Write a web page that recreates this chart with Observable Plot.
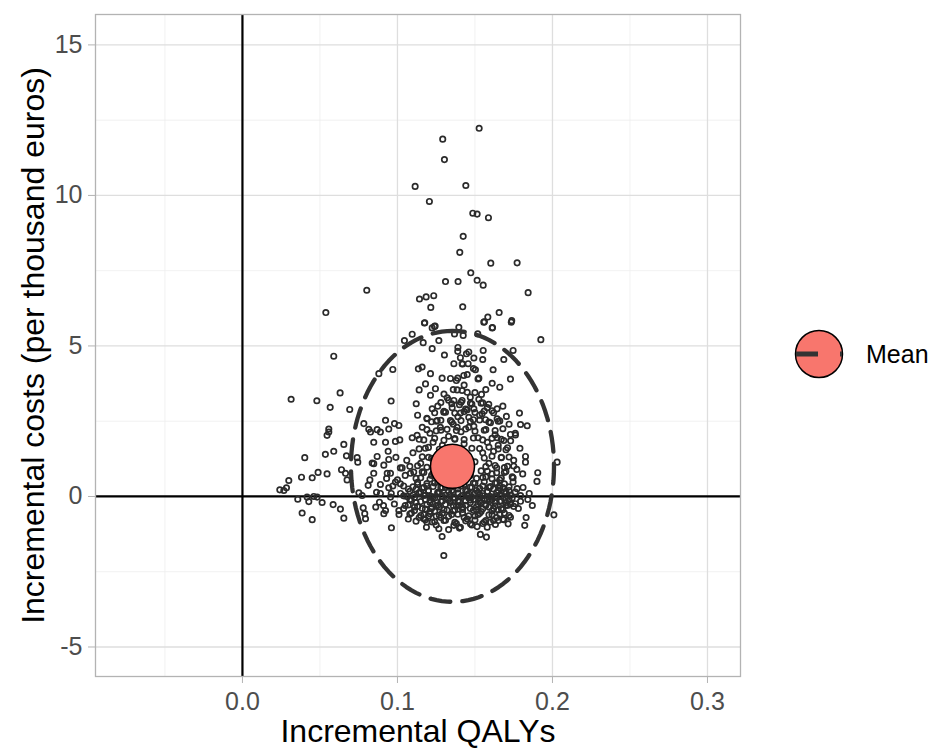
<!DOCTYPE html>
<html>
<head>
<meta charset="utf-8">
<script src="https://cdn.jsdelivr.net/npm/d3@7"></script>
<script src="https://cdn.jsdelivr.net/npm/@observablehq/plot@0.6"></script>
<style>
  body { margin: 0; background: #fff; font-family: "Liberation Sans", Arial, sans-serif; }
  #wrap { position: relative; width: 932px; height: 752px; }
  #legend { position: absolute; left: 789px; top: 324px; display: flex; align-items: center; }
  #legend span { font-size: 25px; color: #000; margin-left: 17px; }
</style>
</head>
<body>
<div id="wrap">
  <div id="chart"></div>
  <div id="legend">
    <svg width="60" height="60">
      <circle cx="30" cy="30" r="23.5" fill="#F8766D" stroke="#000" stroke-width="1.5"></circle>
      <line x1="7" y1="30" x2="29" y2="30" stroke="#333" stroke-width="5"></line>
      <line x1="51" y1="30" x2="53" y2="30" stroke="#333" stroke-width="5"></line>
    </svg>
    <span>Mean</span>
  </div>
</div>
<script>
// ---- Data ----
const xTicks = [0.0, 0.1, 0.2, 0.3];
const xMinor = [-0.05, 0.05, 0.15, 0.25];
const yTicks = [-5, 0, 5, 10, 15];
const yMinor = [-2.5, 2.5, 7.5, 12.5];
const xLabel = "Incremental QALYs";
const yLabel = "Incremental costs (per thousand euros)";
const meanQaly = 0.1355;
const meanCost = 1.0;
const ellipseRadiusQaly = 0.0655;
const ellipseRadiusCost = 4.5;
const legendLabel = "Mean";

// simulated (incremental QALY, incremental cost) pairs: outer / readable points
const samples = [
  [0.1527,12.23],[0.1292,11.87],[0.1303,11.19],[0.1114,10.3],[0.1441,10.33],[0.1206,9.80],
  [0.1486,9.41],[0.1514,9.38],[0.1587,9.26],[0.1424,8.64],[0.1402,8.11],[0.1602,7.75],
  [0.1772,7.76],[0.1473,7.43],[0.1310,7.14],[0.1391,7.14],[0.1514,7.18],[0.1553,7.02],
  [0.0802,6.85],[0.1843,6.77],[0.1142,6.56],[0.1185,6.63],[0.1234,6.67],[0.1215,6.28],
  [0.1421,6.30],[0.0538,6.11],[0.1656,6.11],[0.1583,5.96],[0.1561,5.80],[0.1737,5.84],
  [0.1176,5.77],[0.1243,5.66],[0.1396,5.62],[0.1613,5.61],
  [0.1045,5.18],[0.1095,5.39],[0.0589,4.66],[0.0880,4.08],[0.0970,4.22],[0.0314,3.23],
  [0.0480,3.18],[0.0630,3.44],[0.0566,2.96],[0.0692,2.89],[0.0959,3.17],[0.0783,2.42],
  [0.0923,2.53],[0.0981,2.42],[0.1009,2.36],[0.1135,4.24],[0.1140,3.54],[0.1121,3.08],
  [0.0557,2.24],[0.0815,2.23],[0.0869,2.22],[0.0944,2.24],
  [0.1174,5.76],[0.1239,5.65],[0.1224,5.60],[0.1557,5.79],[0.1611,5.60],[0.1734,5.79],
  [0.1368,5.40],[0.1424,5.35],[0.1518,5.40],[0.1166,5.11],[0.1267,5.18],[0.1925,5.21],
  [0.1224,4.91],[0.1303,4.70],[0.1389,4.82],[0.1445,4.74],[0.1553,4.85],[0.1493,4.60],
  [0.1406,4.61],[0.1746,4.85],[0.1686,4.55],[0.1364,4.41],[0.1417,4.41],[0.1456,4.41],
  [0.1503,4.21],[0.1617,4.21],[0.1159,4.30],[0.1213,4.08],[0.1288,3.93],[0.1342,3.92],
  [0.1389,3.93],[0.1428,4.02],[0.1525,3.93],[0.1729,3.90],[0.1611,3.76],[0.1660,3.63],
  [0.1181,3.74],[0.1245,3.58],[0.1385,3.54],[0.1417,3.52],[0.1450,3.46],[0.1542,3.39],
  [0.1213,3.36],[0.1321,3.28],[0.1364,3.19],[0.1417,3.19],[0.1525,3.23],[0.1471,3.10],
  [0.1589,3.06],[0.1643,2.91],[0.1224,2.91],[0.1353,2.95],[0.1450,2.88],[0.1493,2.91],
  [0.1299,2.80],[0.1406,2.77],[0.1546,2.75],[0.1787,2.77],[0.1703,2.66],[0.1643,2.58],
  [0.1794,2.39],[0.1837,2.35],[0.1191,2.58],[0.1256,2.52],[0.1342,2.52],[0.1460,2.63],
  [0.1568,2.55],[0.1277,2.30],[0.1385,2.30],[0.1493,2.33],
  [0.0546,2.03],[0.0557,2.14],[0.0826,2.14],[0.0890,2.14],[0.0654,1.73],[0.0847,1.80],
  [0.0923,1.80],[0.0987,1.83],[0.1015,1.88],[0.0402,1.29],[0.0535,1.40],[0.0589,1.50],
  [0.0671,1.35],[0.0740,1.29],[0.0744,1.14],[0.0869,1.33],[0.0837,1.11],[0.0847,1.09],
  [0.0912,1.04],[0.0944,1.23],[0.1019,0.95],[0.0299,0.53],[0.0381,0.64],[0.0450,0.62],
  [0.0488,0.80],[0.0546,0.75],[0.0639,0.89],[0.0665,0.77],[0.0675,0.55],[0.0847,0.77],
  [0.0934,0.77],[0.0955,0.77],[0.0822,0.55],[0.0811,0.37],[0.0890,0.40],[0.0865,0.14],
  [0.0944,0.29],[0.0751,0.12],[0.0241,0.22],[0.0267,0.20],[0.0284,0.29],[0.0357,-0.09],
  [0.0417,-0.02],[0.0428,-0.17],[0.0460,0.00],[0.0482,-0.02],[0.0514,-0.20],[0.0585,-0.27],
  [0.0632,-0.42],[0.0385,-0.55],[0.0450,-0.77],[0.0654,-0.72],[0.0772,0.03],[0.0779,-0.38],
  [0.0789,-0.57],[0.0794,-0.74],[0.0884,-0.19],[0.0923,-0.47],[0.0912,-0.57],[0.0961,-1.04],
  [0.1009,-0.47],[0.0955,-0.02],[0.0987,0.48],[0.1019,0.42],[0.1084,0.77],[0.1105,0.81],
  [0.1095,1.95],[0.1127,2.03],
  [0.1729,2.06],[0.1761,2.04],[0.1643,1.95],[0.1686,1.86],[0.1826,1.33],[0.1826,1.14],
  [0.1905,0.79],[0.2030,1.14],[0.1808,0.75],[0.1746,0.62],[0.1746,0.48],[0.1772,0.26],
  [0.1794,0.03],[0.1841,-0.10],[0.1761,-0.24],[0.1794,-0.16],[0.2009,-0.61],[0.1729,-0.69],
  [0.1714,-0.91],[0.1821,-0.96],[0.1632,-0.93],[0.1579,-1.02],[0.1535,-1.26],[0.1574,-1.35],
  [0.1514,-1.00],[0.1288,-1.33],[0.1267,-1.07],[0.1187,-1.02],[0.1299,-1.96],[0.1686,-0.77],
  [0.1650,-0.80],[0.1471,-0.91],[0.1364,-0.96],[0.1406,-1.02],[0.1224,-0.85],[0.1170,-0.74],
  [0.096,0.10],[0.098,-0.25],[0.100,0.55],[0.101,-0.60],[0.103,0.95],[0.104,-0.40],[0.097,0.35],
  [0.099,1.30],[0.106,1.20],[0.107,-0.75],[0.093,0.60],[0.091,-0.30],[0.094,1.50],[0.089,0.10],
  [0.086,-0.35],[0.178,-0.40],[0.181,0.30],[0.183,-0.70],[0.185,0.10],[0.187,-0.30],[0.190,0.50]
];

// dense core of the cloud (estimated from the dark mass around the mean)
const coreSamples = [
  [0.102,0.10],[0.105,-0.30],[0.107,0.25],[0.109,-0.55],[0.110,0.05],[0.112,-0.20],[0.113,0.40],
  [0.114,-0.70],[0.115,0.15],[0.116,-0.40],[0.117,0.30],[0.118,-0.10],[0.119,-0.85],[0.120,0.20],
  [0.121,-0.50],[0.122,0.00],[0.123,-0.25],[0.124,0.45],[0.125,-0.65],[0.126,0.10],[0.127,-0.35],
  [0.128,0.30],[0.129,-0.15],[0.130,-0.80],[0.131,0.05],[0.132,-0.45],[0.133,0.35],[0.134,-0.20],
  [0.135,-0.60],[0.136,0.15],[0.137,-0.05],[0.138,-0.90],[0.139,0.25],[0.140,-0.30],[0.141,0.00],
  [0.142,-0.55],[0.143,0.40],[0.144,-0.15],[0.145,-0.75],[0.146,0.10],[0.147,-0.40],[0.148,0.30],
  [0.149,-0.10],[0.150,-0.65],[0.151,0.20],[0.152,-0.25],[0.153,0.05],[0.154,-0.50],[0.155,0.35],
  [0.156,-0.10],[0.157,-0.80],[0.158,0.15],[0.159,-0.35],[0.160,0.00],[0.161,-0.60],[0.162,0.25],
  [0.163,-0.20],[0.164,0.45],[0.165,-0.45],[0.166,0.05],[0.167,-0.15],[0.168,0.30],[0.169,-0.55],
  [0.170,0.10],[0.171,-0.30],[0.172,0.20],[0.174,-0.05],[0.176,0.15],
  [0.104,0.35],[0.108,-0.10],[0.111,-0.35],[0.114,0.10],[0.117,-0.60],[0.119,0.35],[0.122,-0.40],
  [0.124,-0.05],[0.127,0.15],[0.129,-0.55],[0.131,0.30],[0.133,-0.10],[0.135,0.20],[0.137,-0.45],
  [0.139,-0.15],[0.141,0.35],[0.143,-0.70],[0.145,0.05],[0.147,-0.20],[0.149,0.45],[0.151,-0.45],
  [0.153,-0.05],[0.155,0.10],[0.157,-0.30],[0.159,0.30],[0.161,-0.10],[0.163,0.00],[0.165,0.20],
  [0.167,-0.40],[0.169,0.15],[0.171,0.00],[0.173,-0.25],[0.125,-0.95],[0.140,-1.05],[0.148,-0.95],
  [0.133,-1.10],[0.155,-0.90],[0.160,-0.85],
  [0.106,0.00],[0.112,0.25],[0.118,0.05],[0.121,-0.20],[0.126,-0.30],[0.130,0.45],[0.134,0.05],
  [0.138,0.40],[0.142,-0.35],[0.146,-0.05],[0.150,0.10],[0.154,-0.20],[0.158,-0.10],[0.162,-0.40],
  [0.166,0.35],[0.170,-0.20],[0.136,-0.30],[0.144,0.20],[0.152,-0.60],[0.128,-0.70],[0.120,-0.65],
  [0.164,-0.70],
  [0.112,-0.82],[0.118,-0.77],[0.124,-0.84],[0.131,-0.79],[0.137,-0.86],[0.144,-0.81],[0.150,-0.78],
  [0.156,-0.85],[0.162,-0.80],[0.168,-0.76],
  [0.108,-0.58],[0.115,-0.63],[0.121,-0.57],[0.127,-0.62],[0.133,-0.66],[0.139,-0.59],[0.146,-0.64],
  [0.153,-0.56],[0.159,-0.61],[0.166,-0.58],[0.172,-0.63],
  [0.111,-0.47],[0.118,-0.42],[0.124,-0.49],[0.130,-0.44],[0.136,-0.48],[0.142,-0.43],[0.149,-0.46],
  [0.155,-0.41],[0.161,-0.48],[0.168,-0.44],
  [0.107,-0.28],[0.113,-0.33],[0.119,-0.27],[0.125,-0.31],[0.131,-0.26],[0.138,-0.32],[0.144,-0.29],
  [0.151,-0.34],[0.157,-0.27],[0.163,-0.31],[0.170,-0.28],[0.175,-0.33],
  [0.109,-0.13],[0.115,-0.17],[0.121,-0.12],[0.128,-0.16],[0.134,-0.14],[0.140,-0.18],[0.147,-0.12],
  [0.153,-0.16],[0.160,-0.13],[0.166,-0.17],[0.172,-0.12],
  [0.104,0.02],[0.111,-0.03],[0.117,0.03],[0.123,-0.02],[0.129,0.01],[0.136,-0.04],[0.142,0.03],
  [0.148,-0.01],[0.155,0.02],[0.161,-0.03],[0.167,0.01],[0.173,0.04],
  [0.108,0.17],[0.114,0.13],[0.120,0.18],[0.126,0.14],[0.133,0.16],[0.139,0.12],[0.145,0.18],
  [0.152,0.14],[0.158,0.17],[0.164,0.13],[0.170,0.16],
  [0.110,0.32],[0.116,0.28],[0.123,0.33],[0.129,0.29],[0.147,0.31],[0.153,0.27],[0.160,0.33],
  [0.166,0.29],[0.172,0.32],
  [0.113,0.47],[0.119,0.43],[0.126,0.48],[0.150,0.44],[0.156,0.49],[0.163,0.45],[0.169,0.42],
  [0.115,0.62],[0.121,0.58],[0.155,0.63],[0.161,0.59],[0.167,0.61],
  [0.112,0.60],[0.115,1.10],[0.117,0.80],[0.118,1.60],[0.120,1.30],[0.121,2.10],[0.122,0.70],
  [0.123,1.80],[0.124,1.00],[0.125,2.50],[0.126,1.40],[0.127,0.60],[0.128,2.20],[0.129,1.70],
  [0.130,0.90],[0.131,2.80],[0.132,1.20],[0.133,2.00],[0.134,0.65],[0.135,1.55],[0.136,2.40],
  [0.137,1.90],[0.138,0.75],[0.139,2.65],[0.140,1.35],[0.141,2.15],[0.142,0.55],[0.143,1.75],
  [0.144,2.90],[0.145,1.05],[0.146,2.30],[0.147,0.70],[0.148,1.60],[0.149,2.55],[0.150,1.15],
  [0.151,0.60],[0.152,1.95],[0.153,2.70],[0.154,0.85],[0.155,1.45],[0.156,2.20],[0.157,0.65],
  [0.158,1.80],[0.159,1.10],[0.160,2.45],[0.161,0.75],[0.162,1.50],[0.163,2.05],[0.164,0.95],
  [0.165,1.70],[0.166,0.55],[0.167,1.30],[0.168,2.25],[0.169,0.80],[0.170,1.55],[0.171,1.00],
  [0.173,1.85],[0.174,0.65],[0.119,2.60],[0.126,3.00],[0.133,3.20],[0.140,3.05],[0.147,3.30],
  [0.154,3.10],[0.161,2.85],[0.136,3.55],[0.143,3.70],[0.150,3.45],[0.145,4.05],[0.138,3.85],
  [0.152,3.90],[0.157,3.55],[0.130,3.40],[0.142,4.40],[0.149,4.25],[0.155,4.55],[0.146,4.80],
  [0.139,4.95],[0.114,1.90],[0.116,2.30],[0.110,1.45],[0.108,1.00],[0.105,0.70],[0.113,2.70],
  [0.158,2.95],[0.165,2.50],[0.168,3.00],[0.172,2.40],[0.175,1.20],[0.177,0.90],[0.179,1.60],
  [0.176,2.10],
  [0.116,0.82],[0.123,0.78],[0.158,0.84],[0.164,0.79],[0.170,0.83],
  [0.113,1.02],[0.119,0.97],[0.126,1.04],[0.157,0.99],[0.163,1.03],[0.169,0.96],[0.175,1.01],
  [0.116,1.32],[0.122,1.27],[0.129,1.33],[0.156,1.28],[0.161,1.34],[0.167,1.29],[0.172,1.31],
  [0.114,1.58],[0.120,1.63],[0.127,1.57],[0.133,1.62],[0.153,1.59],[0.159,1.64],[0.165,1.58],[0.171,1.62],
  [0.117,1.88],[0.124,1.93],[0.130,1.87],[0.137,1.92],[0.143,1.89],[0.149,1.94],[0.155,1.88],
  [0.161,1.93],[0.167,1.90],
  [0.119,2.22],[0.125,2.18],[0.132,2.23],[0.138,2.19],[0.144,2.24],[0.150,2.17],[0.157,2.22],[0.163,2.19],
  [0.122,2.48],[0.128,2.53],[0.135,2.47],[0.141,2.52],[0.147,2.49],[0.153,2.54],[0.159,2.47],[0.166,2.51],
  [0.124,2.78],[0.130,2.83],[0.137,2.77],[0.143,2.82],[0.150,2.79],[0.156,2.84],[0.162,2.78],
  [0.128,3.12],[0.135,3.08],[0.141,3.13],[0.148,3.07],[0.155,3.11]
];

// ellipse outline derived from centre and radii
const ellipse = d3.range(0, 121).map(i => {
  const t = Math.PI / 2 + (i / 120) * 2 * Math.PI;
  return { x: meanQaly + ellipseRadiusQaly * Math.cos(t), y: meanCost + ellipseRadiusCost * Math.sin(t) };
});

const allSamples = samples.concat(coreSamples);

const chart = Plot.plot({
  width: 932,
  height: 752,
  marginLeft: 95,
  marginRight: 192,
  marginTop: 14,
  marginBottom: 76,
  style: { fontFamily: "'Liberation Sans', Arial, sans-serif", background: "#fff" },
  x: { domain: [-0.0948, 0.3213] },
  y: { domain: [-5.98, 16.01] },
  marks: [
    Plot.ruleX(xMinor, { stroke: "#EDEDED", strokeWidth: 0.8 }),
    Plot.ruleY(yMinor, { stroke: "#EDEDED", strokeWidth: 0.8 }),
    Plot.ruleX(xTicks, { stroke: "#DEDEDE", strokeWidth: 1.3 }),
    Plot.ruleY(yTicks, { stroke: "#DEDEDE", strokeWidth: 1.3 }),
    Plot.ruleX([0], { stroke: "#000", strokeWidth: 2.2 }),
    Plot.ruleY([0], { stroke: "#000", strokeWidth: 2.2 }),
    Plot.dot(allSamples, { x: d => d[0], y: d => d[1], r: 2.7, stroke: "#2b2b2b", strokeWidth: 1.7, fill: "none" }),
    Plot.line(ellipse, { x: "x", y: "y", stroke: "#333", strokeWidth: 4.3, strokeDasharray: "20,12", curve: "linear" }),
    Plot.dot([{ x: meanQaly, y: meanCost }], { x: "x", y: "y", r: 22, fill: "#F8766D", stroke: "#000", strokeWidth: 1.5 }),
    Plot.frame({ stroke: "#B3B3B3", strokeWidth: 1.3 }),
    Plot.axisX(xTicks, { tickFormat: d3.format(".1f"), tickSize: 7, tickPadding: 9, fontSize: 25, color: "#4D4D4D", stroke: "#B3B3B3", label: null }),
    Plot.axisY(yTicks, { tickFormat: d => d < 0 ? "-" + Math.abs(d) : String(d), tickSize: 7, tickPadding: 6, fontSize: 25, color: "#4D4D4D", stroke: "#B3B3B3", label: null }),
    Plot.text([xLabel], { frameAnchor: "bottom", dy: 55, fontSize: 32, fill: "#000", textAnchor: "middle", lineAnchor: "middle" }),
    Plot.text([yLabel], { frameAnchor: "left", dx: -62, rotate: -90, fontSize: 32, fill: "#000", textAnchor: "middle", lineAnchor: "middle" })
  ]
});
document.getElementById("chart").appendChild(chart);
document.querySelector("#legend span").textContent = legendLabel;
</script>
</body>
</html>
